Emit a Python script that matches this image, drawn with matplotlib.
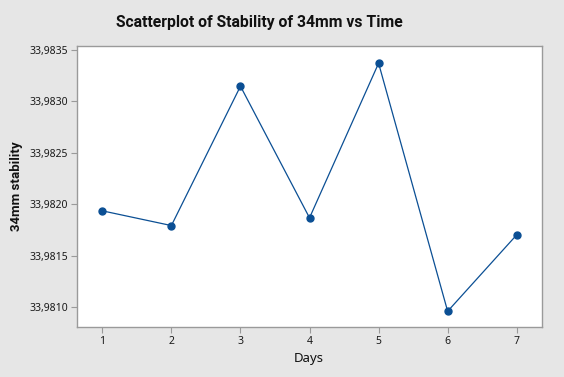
import matplotlib.pyplot as plt
from matplotlib.ticker import FuncFormatter

# data
days = [1, 2, 3, 4, 5, 6, 7]
stability = [33.981936, 33.981793, 33.983146, 33.981868, 33.983369, 33.980961, 33.981703]
y_ticks = [33.9810, 33.9815, 33.9820, 33.9825, 33.9830, 33.9835]

plt.rcParams['font.family'] = ['Noto Sans', 'DejaVu Sans']

bg = '#e6e6e6'
blue = '#0b4f94'
edge = '#9a9a9a'

fig = plt.figure(figsize=(5.64, 3.77), dpi=100, facecolor=bg)
ax = fig.add_axes([0.136, 0.132, 0.8245, 0.747])
ax.set_facecolor('white')

ax.plot(days, stability, color=blue, linewidth=0.9, marker='o', markersize=5,
        markerfacecolor=blue, markeredgecolor=blue)

ax.set_xlim(0.629, 7.362)
ax.set_ylim(33.980806, 33.98354)
ax.set_xticks(days)
ax.set_yticks(y_ticks)
ax.yaxis.set_major_formatter(FuncFormatter(lambda v, p: f'{v:.4f}'.replace('.', ',')))

for s in ax.spines.values():
    s.set_color(edge)
    s.set_linewidth(1.0)
ax.tick_params(direction='out', length=4, width=0.8, color=edge, labelsize=7.5,
               labelcolor='#1a1a1a', pad=2)

# title sits a bit left of the plot centre, like the original
fig.text(0.46, 0.94, 'Scatterplot of Stability of 34mm vs Time', ha='center', va='center',
         fontsize=11.3, fontweight='bold', color='#111111', family='Roboto')
ax.set_xlabel('Days', fontsize=9.5, color='#111111', labelpad=4)
ax.set_ylabel('34mm stability', fontsize=9.5, fontweight='bold', color='#111111', labelpad=5,
              family='Roboto')

fig.savefig('out.png', dpi=100, facecolor=bg)
